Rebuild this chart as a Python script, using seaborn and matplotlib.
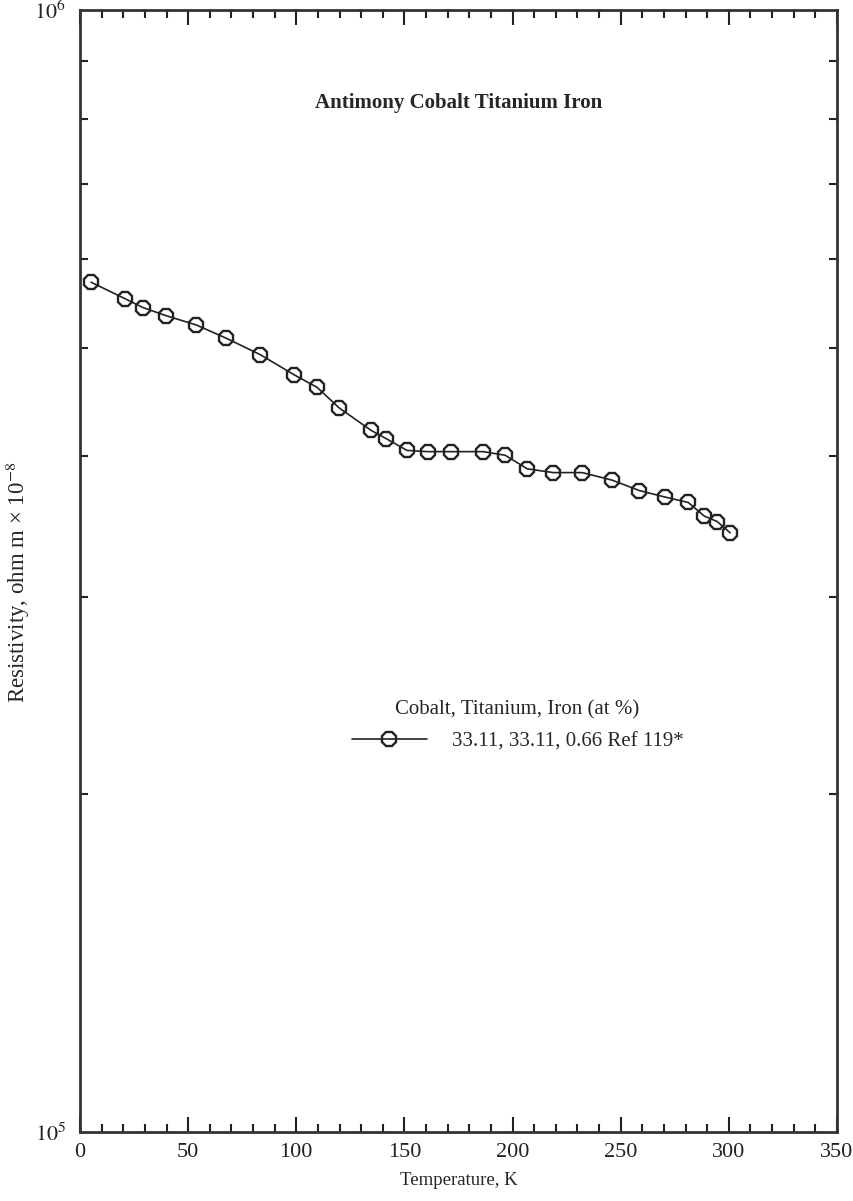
import numpy as np
import pandas as pd
import matplotlib.pyplot as plt
import seaborn as sns
from matplotlib.ticker import MultipleLocator, LogLocator, NullFormatter, FixedLocator

# values
temperature = [5.1, 20.8, 29.1, 39.8, 53.7, 67.5, 83.3, 99.0, 109.6, 119.8, 134.6, 141.5,
               151.2, 161.0, 171.6, 186.4, 196.6, 206.8, 218.8, 232.2, 246.1, 258.6,
               270.6, 281.2, 288.6, 294.6, 300.6]
resistivity = [5.72e5, 5.53e5, 5.43e5, 5.34e5, 5.24e5, 5.10e5, 4.93e5, 4.73e5, 4.61e5, 4.42e5,
               4.22e5, 4.15e5, 4.05e5, 4.04e5, 4.04e5, 4.04e5, 4.01e5, 3.90e5, 3.87e5, 3.87e5,
               3.81e5, 3.73e5, 3.68e5, 3.64e5, 3.54e5, 3.50e5, 3.42e5]
series_label = "33.11, 33.11, 0.66 Ref 119*"

df = pd.DataFrame({'T': temperature, 'rho': resistivity, 'series': series_label})

sns.set_style('ticks')
plt.rcParams['font.family'] = ['Liberation Serif', 'DejaVu Serif']
plt.rcParams['mathtext.fontset'] = 'stix'

fig = plt.figure(figsize=(8.54, 12.01), dpi=100)
ax = fig.add_axes([80 / 854, 1 - 1132 / 1201, (837 - 80) / 854, (1132 - 10) / 1201])

sns.lineplot(data=df, x='T', y='rho', hue='series', palette=['#222222'], marker='8',
             markersize=10.5, markerfacecolor='none', markeredgecolor='#222222',
             markeredgewidth=1.7, linewidth=1.2, ax=ax)

ax.set_yscale('log')
ax.set_xlim(0, 350)
ax.set_ylim(1e5, 1e6)

ax.xaxis.set_major_locator(MultipleLocator(50))
ax.xaxis.set_minor_locator(MultipleLocator(10))
ax.yaxis.set_major_locator(FixedLocator([1e5, 1e6]))
ax.yaxis.set_minor_locator(LogLocator(base=10, subs=np.arange(2, 10)))
ax.yaxis.set_minor_formatter(NullFormatter())
ax.set_yticklabels([r'$10^5$', r'$10^6$'])

ax.tick_params(which='both', direction='in', top=True, right=True, colors='#222222',
               labelsize=16, labelcolor='#222222')
ax.tick_params(which='major', length=11, width=1.5)
ax.tick_params(which='minor', length=6, width=1.5)
ax.tick_params(axis='y', which='major', length=0, pad=10)
ax.tick_params(axis='x', which='major', pad=8)

for s in ax.spines.values():
    s.set_linewidth(2)
    s.set_color('#333333')

ax.set_xlabel('Temperature, K', fontsize=13.5)
ax.set_ylabel('Resistivity, ohm m \u00d7 10$^{\u22128}$', fontsize=16.5)
ax.xaxis.set_label_coords(0.5, -0.036)
ax.yaxis.set_label_coords(-0.064, 0.49)

ax.text(0.5, 0.917, 'Antimony Cobalt Titanium Iron', transform=ax.transAxes,
        ha='center', va='center', fontsize=15, fontweight='bold')

leg = ax.legend(title='Cobalt, Titanium, Iron (at %)', frameon=False, fontsize=15,
                title_fontsize=15, loc='center', bbox_to_anchor=(0.578, 0.362),
                handlelength=3.6, handletextpad=1.2, labelspacing=0.6)
leg._legend_box.sep = 9

fig.savefig('out.png', dpi=100, facecolor='white')
